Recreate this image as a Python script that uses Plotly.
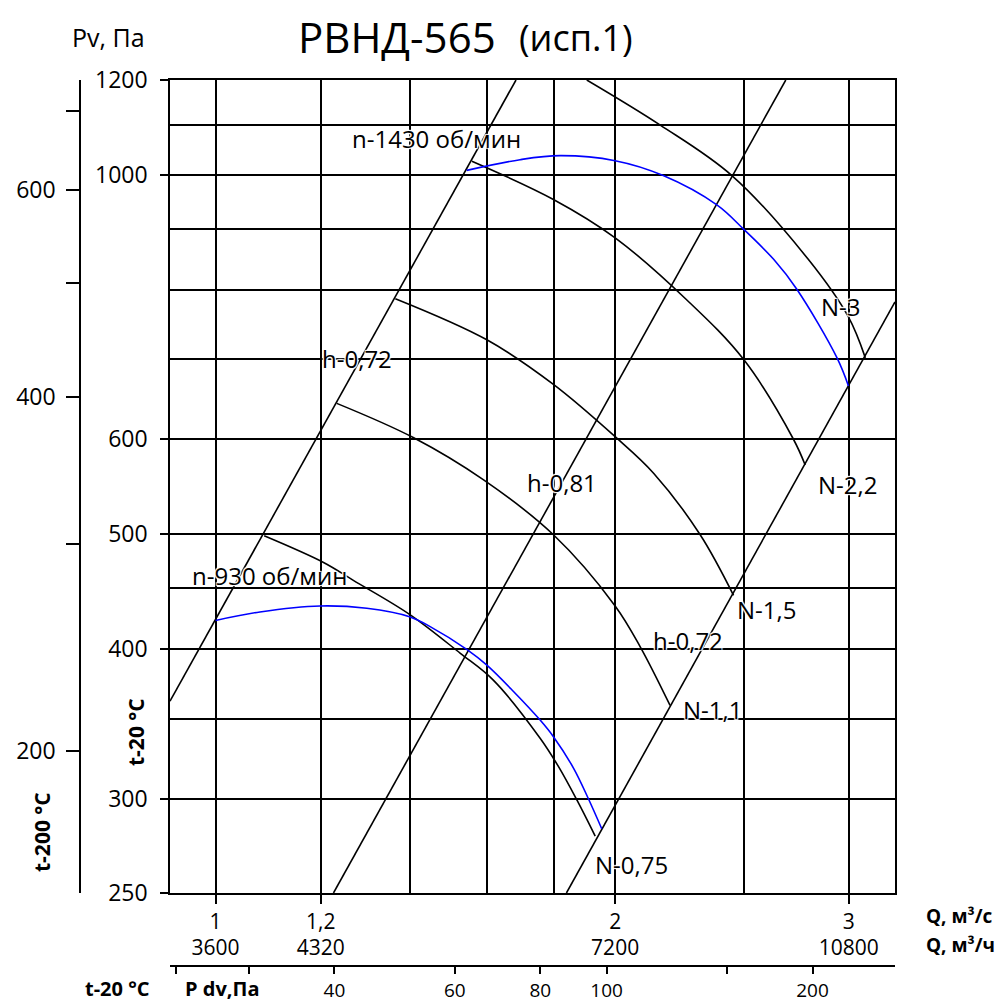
import numpy as np
import plotly.graph_objects as go

W, H = 1001, 1003
FONT = "Open Sans"

# ---------------- axis limits ----------------
Q_MIN, Q_MAX = 0.924, 3.25          # Q, m3/s
P_MIN, P_MAX = 250, 1200            # Pv, Pa (t-20 C)
P200_MIN, P200_MAX = 151.6, 744     # Pv, Pa (t-200 C)
PDV_MIN, PDV_MAX = 23.0, 264        # P dv, Pa

# ---------------- ticks ----------------
q_ticks = [1, 1.2, 2, 3]
q_ticktext = ["1", "1,2", "2", "3"]
q_grid = [1.4, 1.6, 1.8, 2.5]
qh_ticks = [3600, 4320, 7200, 10800]
p_ticks = [250, 300, 400, 500, 600, 1000, 1200]
p_grid = [350, 450, 700, 800, 900, 1100]
p200_ticks = [200, 400, 600]
p200_minor = [300, 500, 700]
pdv_ticks = [40, 60, 80, 100, 200]
pdv_minor = [23.5, 30, 150]

# ---------------- network (efficiency) lines ----------------
netA_q = [0.924, 1.684]; netA_p = [362, 1200]     # h-0,72
netB_q = [1.227, 2.689]; netB_p = [250, 1200]     # h-0,81
netC_q = [1.838, 3.25];  netC_p = [250, 782]      # h-0,72

# ---------------- fan curves (black) ----------------
n3_q = [1.904, 2.163, 2.449, 2.796, 2.997, 3.087]
n3_p = [1200, 1100, 998, 849, 760, 702]

n22_q = [1.560, 1.797, 2.0, 2.265, 2.499, 2.725, 2.781]
n22_p = [1026, 953, 885, 785, 700, 600, 571]

n15_q = [1.366, 1.601, 1.797, 2.0, 2.138, 2.318, 2.456]
n15_p = [787, 727, 667, 603, 562, 499, 444]

n11_q = [1.234, 1.409, 1.591, 1.797, 2.0, 2.089, 2.2]
n11_p = [643, 602, 555, 499, 435, 402, 359]

n075_q = [1.088, 1.206, 1.270, 1.4, 1.529, 1.619, 1.756, 1.813, 1.872, 1.932]
n075_p = [498, 473, 457, 428, 397, 377, 337, 319, 299, 279]

# ---------------- blue curves ----------------
b1430_q = [1.546, 1.696, 1.818, 2.0, 2.174, 2.386, 2.499, 2.633, 2.742, 2.939, 2.998]
b1430_p = [1008, 1029, 1037, 1027, 998, 943, 900, 849, 801, 702, 665]

b930_q = [1.0, 1.080, 1.199, 1.300, 1.4, 1.451, 1.546, 1.601, 1.676, 1.756, 1.797, 1.861, 1.909, 1.954]
b930_p = [423, 430, 435, 433, 426, 418, 400, 388, 369, 349, 338, 318, 300, 283]


def px_x(x):
    return x / W


def px_y(y):
    return 1 - y / H


fig = go.Figure()

for q, p in [(netA_q, netA_p), (netB_q, netB_p), (netC_q, netC_p)]:
    fig.add_trace(go.Scatter(x=q, y=p, mode="lines", line=dict(color="black", width=1.6),
                             hoverinfo="skip", showlegend=False))

for q, p in [(n3_q, n3_p), (n22_q, n22_p), (n15_q, n15_p), (n11_q, n11_p), (n075_q, n075_p)]:
    fig.add_trace(go.Scatter(x=q, y=p, mode="lines",
                             line=dict(color="black", width=1.6, shape="spline", smoothing=1.0),
                             hoverinfo="skip", showlegend=False))

for q, p in [(b1430_q, b1430_p), (b930_q, b930_p)]:
    fig.add_trace(go.Scatter(x=q, y=p, mode="lines",
                             line=dict(color="#0000ff", width=1.6, shape="spline", smoothing=1.0),
                             hoverinfo="skip", showlegend=False))

# invisible traces to activate the extra axes
fig.add_trace(go.Scatter(x=[Q_MIN * 3600], y=[P_MIN], xaxis="x2", yaxis="y", mode="lines",
                         line=dict(width=0), hoverinfo="skip", showlegend=False))
fig.add_trace(go.Scatter(x=[PDV_MIN], y=[P_MIN], xaxis="x3", yaxis="y", mode="lines",
                         line=dict(width=0), hoverinfo="skip", showlegend=False))
fig.add_trace(go.Scatter(x=[Q_MIN], y=[P200_MIN], xaxis="x", yaxis="y2", mode="lines",
                         line=dict(width=0), hoverinfo="skip", showlegend=False))

xdom = [px_x(170), px_x(895)]
ydom = [px_y(893), px_y(80)]
tickfont = dict(family=FONT, size=23, color="black")

fig.update_layout(
    width=W, height=H,
    margin=dict(l=0, r=0, t=0, b=0, autoexpand=False),
    paper_bgcolor="white", plot_bgcolor="rgba(0,0,0,0)",
    showlegend=False,
    xaxis=dict(
        type="log", domain=xdom, range=[np.log10(Q_MIN), np.log10(Q_MAX)],
        tickvals=q_ticks, ticktext=q_ticktext, ticks="outside", ticklen=9, tickwidth=1.5,
        tickcolor="black", tickfont=dict(family=FONT, size=21, color="black"),
        showgrid=True, gridcolor="black", gridwidth=1.6,
        minor=dict(tickvals=q_grid, showgrid=True, gridcolor="black", gridwidth=1.6, ticks=""),
        showline=True, linecolor="black", linewidth=1.6, mirror=True,
        zeroline=False, anchor="y",
    ),
    xaxis2=dict(
        type="log", overlaying="x", anchor="free", position=px_y(933),
        range=[np.log10(Q_MIN * 3600), np.log10(Q_MAX * 3600)],
        tickvals=qh_ticks, ticktext=[str(v) for v in qh_ticks], ticks="",
        tickfont=dict(family=FONT, size=21, color="black"),
        showgrid=False, showline=False, zeroline=False,
    ),
    xaxis3=dict(
        type="log", overlaying="x", anchor="free", position=px_y(966),
        range=[np.log10(PDV_MIN), np.log10(PDV_MAX)],
        tickvals=pdv_ticks, ticktext=[str(v) for v in pdv_ticks], ticks="outside", ticklen=7,
        tickwidth=1.5, tickcolor="black",
        minor=dict(tickvals=pdv_minor, ticks="outside", ticklen=7, tickwidth=1.5, tickcolor="black",
                   showgrid=False),
        tickfont=dict(family=FONT, size=19, color="black"),
        showgrid=False, showline=True, linecolor="black", linewidth=1.6, zeroline=False,
    ),
    yaxis=dict(
        type="log", domain=ydom, range=[np.log10(P_MIN), np.log10(P_MAX)],
        tickvals=p_ticks, ticktext=[str(v) for v in p_ticks], ticks="outside", ticklen=8,
        tickwidth=1.5, tickcolor="black", tickfont=tickfont, ticklabelstandoff=8,
        showgrid=True, gridcolor="black", gridwidth=1.6,
        minor=dict(tickvals=p_grid, showgrid=True, gridcolor="black", gridwidth=1.6, ticks=""),
        showline=True, linecolor="black", linewidth=1.6, mirror=True,
        zeroline=False, anchor="x",
    ),
    yaxis2=dict(
        type="log", overlaying="y", anchor="free", position=px_x(80), side="left",
        range=[np.log10(P200_MIN), np.log10(P200_MAX)],
        tickvals=p200_ticks, ticktext=[str(v) for v in p200_ticks], ticks="outside", ticklen=13,
        tickwidth=1.5, tickcolor="black", tickfont=tickfont, ticklabelstandoff=6,
        minor=dict(tickvals=p200_minor, ticks="outside", ticklen=13, tickwidth=1.5, tickcolor="black",
                   showgrid=False),
        showgrid=False, showline=True, linecolor="black", linewidth=1.6, zeroline=False,
    ),
)

HALO = ("white 1px 1px 1px, white -1px -1px 1px, white 1px -1px 1px, white -1px 1px 1px, "
        "white 0px 0px 2px")


def label(text, x, y, size=24, bold=False, angle=0, halo=False, xanchor="center"):
    f = dict(family=FONT, size=size, color="black", weight=700 if bold else 400)
    if halo:
        f["shadow"] = HALO
    fig.add_annotation(text=text, x=px_x(x), y=px_y(y), xref="paper", yref="paper",
                       showarrow=False, font=f, textangle=angle,
                       xanchor=xanchor, yanchor="middle")


# titles
label("Pv, Па", 108, 37, size=25)
label("РВНД-565", 397, 36, size=42)
label("(исп.1)", 576, 38, size=36)

# curve labels
label("n-1430 об/мин", 436, 139, halo=True)
label("h-0,72", 357, 358, halo=True)
label("h-0,81", 562, 482, halo=True)
label("N-3", 841, 307, halo=True)
label("N-2,2", 847, 484, halo=True)
label("N-1,5", 766, 609, halo=True)
label("h-0,72", 688, 640, halo=True)
label("N-1,1", 712, 709, halo=True)
label("n-930 об/мин", 269, 575, halo=True)
label("N-0,75", 631, 864, halo=True)

# axis titles
label("t-20 °C", 136, 732, size=21, bold=True, angle=-90)
label("t-200 °C", 42, 832, size=21, bold=True, angle=-90)
label("t-20 °C", 117, 988, size=20, bold=True)
label("P dv,Па", 222, 988, size=20, bold=True)
label("Q, м³/с", 924, 916, size=19, bold=True, xanchor="left")
label("Q, м³/ч", 924, 945, size=19, bold=True, xanchor="left")

fig.write_html("out.html")
